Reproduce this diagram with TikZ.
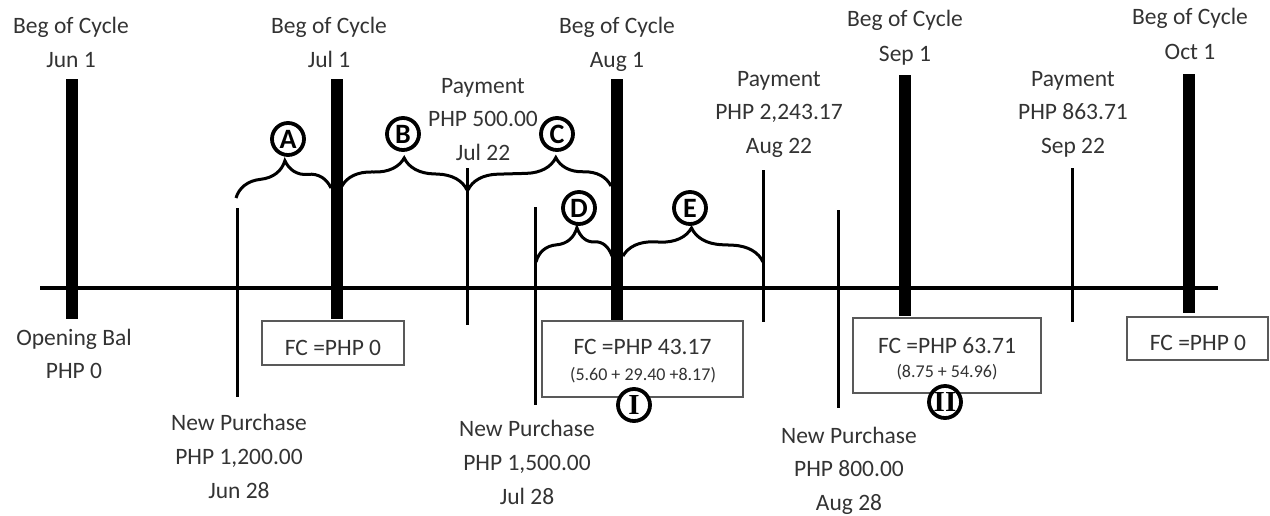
\documentclass[tikz,border=0pt]{standalone}
\usepackage{fontspec}
\setmainfont{Carlito}
\newfontfamily\romanI{Liberation Serif}
\usetikzlibrary{decorations.pathreplacing}
\begin{document}
\begin{tikzpicture}[x=1pt,y=-1pt,
  txt/.style={font=\fontsize{23.5}{28}\selectfont, text=black!80, inner sep=0pt, anchor=base},
  small/.style={font=\fontsize{18}{22}\selectfont, text=black!80, inner sep=0pt, anchor=base},
  bar/.style={line width=12.5pt},
  tickline/.style={line width=3pt},
  axisline/.style={line width=4.5pt},
  fcbox/.style={draw=black!65, line width=1.3pt, fill=white, inner sep=0pt},
  circ/.style={circle, draw=black, line width=3.8pt, fill=white, minimum size=32pt, inner sep=0pt, font=\fontsize{28}{28}\selectfont\bfseries},
  romancirc/.style={circ, font=\fontsize{29}{29}\selectfont\romanI\bfseries},
  brc/.style 2 args={line width=3pt, decorate, decoration={brace, amplitude=#1pt, aspect=#2}},
]
\useasboundingbox (0,0) rectangle (1270,515);

% axis
\coordinate (axL) at (40,288);
\coordinate (axR) at (1218,288);
\draw[axisline] (axL) -- (axR);

% cycle bars
\coordinate (b1t) at (72,79);   \coordinate (b1b) at (72,319);
\coordinate (b2t) at (337,79);  \coordinate (b2b) at (337,319);
\coordinate (b3t) at (617,79);  \coordinate (b3b) at (617,320);
\coordinate (b4t) at (905,75);  \coordinate (b4b) at (905,316);
\coordinate (b5t) at (1189,74); \coordinate (b5b) at (1189,313);
\foreach \i in {1,...,5} \draw[bar] (b\i t) -- (b\i b);

% event ticks
\coordinate (t1t) at (237,208);  \coordinate (t1b) at (237,397);
\coordinate (t2t) at (467,168);  \coordinate (t2b) at (467,325);
\coordinate (t3t) at (535,207);  \coordinate (t3b) at (535,405);
\coordinate (t4t) at (763,170);  \coordinate (t4b) at (763,322);
\coordinate (t5t) at (838,210);  \coordinate (t5b) at (838,408);
\coordinate (t6t) at (1072,168); \coordinate (t6b) at (1072,322);
\foreach \i in {1,...,6} \draw[tickline] (t\i t) -- (t\i b);

% top labels
\node[txt] (c1a) at (71,33) {Beg of Cycle};
\node[txt] (c1b) at (71,67) {Jun 1};
\node[txt] (c2a) at (329,33) {Beg of Cycle};
\node[txt] (c2b) at (329,67) {Jul 1};
\node[txt] (c3a) at (617,33) {Beg of Cycle};
\node[txt] (c3b) at (617,67) {Aug 1};
\node[txt] (c4a) at (905,26) {Beg of Cycle};
\node[txt] (c4b) at (905,61) {Sep 1};
\node[txt] (c5a) at (1190,24) {Beg of Cycle};
\node[txt] (c5b) at (1190,59) {Oct 1};

\node[txt] (p1a) at (483,93) {Payment};
\node[txt] (p1b) at (483,126) {PHP 500.00};
\node[txt] (p1c) at (483,160) {Jul 22};
\node[txt] (p2a) at (779,86) {Payment};
\node[txt] (p2b) at (779,119) {PHP 2,243.17};
\node[txt] (p2c) at (779,153) {Aug 22};
\node[txt] (p3a) at (1073,86) {Payment};
\node[txt] (p3b) at (1073,119) {PHP 863.71};
\node[txt] (p3c) at (1073,153) {Sep 22};

% bottom labels
\node[txt] (ob1) at (74,345) {Opening Bal};
\node[txt] (ob2) at (74,378) {PHP 0};
\node[txt] (n1a) at (239,430) {New Purchase};
\node[txt] (n1b) at (239,464) {PHP 1,200.00};
\node[txt] (n1c) at (239,498) {Jun 28};
\node[txt] (n2a) at (527,436) {New Purchase};
\node[txt] (n2b) at (527,470) {PHP 1,500.00};
\node[txt] (n2c) at (527,504) {Jul 28};
\node[txt] (n3a) at (849,443) {New Purchase};
\node[txt] (n3b) at (849,476) {PHP 800.00};
\node[txt] (n3c) at (849,510) {Aug 28};

% FC boxes
\node[fcbox, minimum width=142pt, minimum height=44pt] (fc1) at (333,343) {};
\node[txt] (fc1t) at (333,355) {FC =PHP 0};
\node[fcbox, minimum width=201pt, minimum height=76pt] (fc2) at (642.5,359) {};
\node[txt] (fc2t) at (642.5,354) {FC =PHP 43.17};
\node[small] (fc2s) at (643,380) {(5.60 + 29.40 +8.17)};
\node[fcbox, minimum width=188pt, minimum height=75pt] (fc3) at (947,355.5) {};
\node[txt] (fc3t) at (947,353) {FC =PHP 63.71};
\node[small] (fc3s) at (947,377) {(8.75 + 54.96)};
\node[fcbox, minimum width=141pt, minimum height=43pt] (fc4) at (1197.5,338.5) {};
\node[txt] (fc4t) at (1198,350) {FC =PHP 0};

% braces
\coordinate (bA1) at (236,198); \coordinate (bA2) at (331,188);
\coordinate (bB1) at (342,186); \coordinate (bB2) at (467,190);
\coordinate (bC1) at (468,190); \coordinate (bC2) at (611,186);
\coordinate (bD1) at (536,262); \coordinate (bD2) at (612,256);
\coordinate (bE1) at (623,256); \coordinate (bE2) at (763,262);
\draw[brc={32}{0.55}] (bA1) -- (bA2);
\draw[brc={30}{0.49}] (bB1) -- (bB2);
\draw[brc={30}{0.62}] (bC1) -- (bC2);
\draw[brc={31}{0.57}] (bD1) -- (bD2);
\draw[brc={31}{0.48}] (bE1) -- (bE2);

% circled labels
\node[circ] (cA) at (288,139) {A};
\node[circ] (cB) at (403,134) {B};
\node[circ] (cC) at (557,134) {C};
\node[circ] (cD) at (579,208) {D};
\node[circ] (cE) at (690,208) {E};
\node[romancirc] (cI) at (634,405) {I};
\node[romancirc] (cII) at (945,402) {II};
\end{tikzpicture}
\end{document}
